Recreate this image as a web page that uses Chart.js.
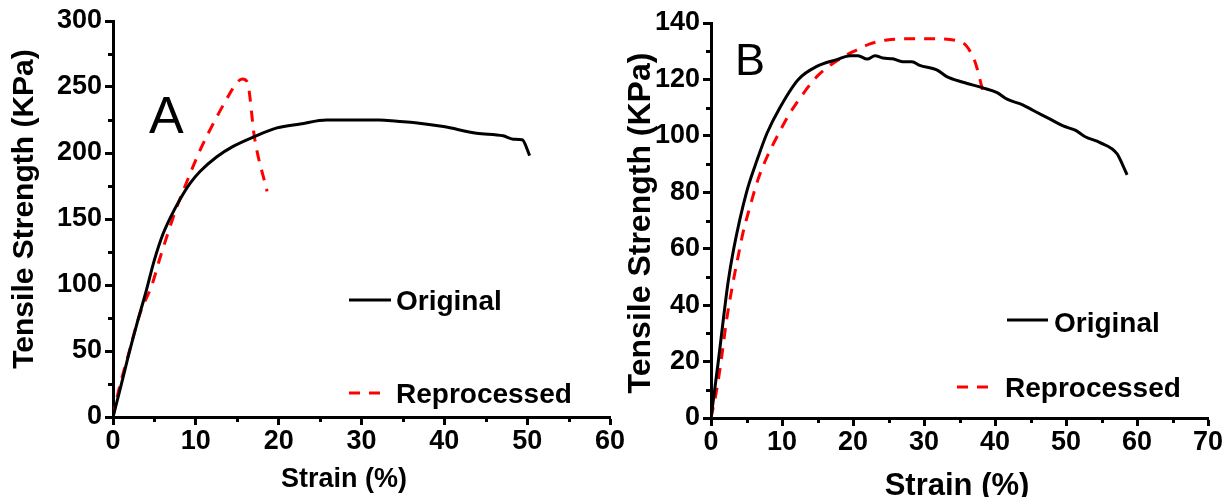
<!DOCTYPE html>
<html>
<head>
<meta charset="utf-8">
<title>Tensile strength vs strain</title>
<script src="https://cdn.jsdelivr.net/npm/chart.js@4.4.0/dist/chart.umd.min.js"></script>
<style>
  html, body { margin: 0; padding: 0; background: #fff; }
  body { width: 1230px; height: 497px; position: relative; overflow: hidden; }
  canvas { position: absolute; top: 0; }
  #chartA { left: 0; }
  #chartB { left: 600px; }
</style>
</head>
<body>
<canvas id="chartA" width="650" height="497"></canvas>
<canvas id="chartB" width="630" height="497"></canvas>
<script>
const FONT = "'Liberation Sans', Arial, Helvetica, sans-serif";

// ---- Panel A ----
const strainA_original = [0, 0.9, 1.8, 2.9, 3.9, 5.0, 6.0, 7.0, 8.1, 9.3, 10.5, 12.5, 14.5, 16.9, 19.8, 22.6, 25.8, 32.2, 34.3, 36.5, 39.9, 43.9, 47.1, 48.3, 49.4, 50.3];
const stressA_original = [0, 22, 45, 71, 93, 119, 138, 152, 165, 177, 186, 197, 205, 212, 219, 222, 225, 225, 224, 223, 220, 215, 213, 210.5, 210, 198];
const strainA_reprocessed = [0, 0.6, 1.8, 3.3, 4.7, 5.7, 7.7, 8.9, 10.5, 12.5, 14.1, 14.9, 15.6, 16.2, 17.1, 18.6];
const stressA_reprocessed = [0, 18, 46, 79, 100, 121, 159, 178, 202, 227, 245, 253, 256, 254, 211, 171];

const xTicksA = [0, 10, 20, 30, 40, 50, 60];
const yTicksA = [0, 50, 100, 150, 200, 250, 300];
const xMinorA = [5, 15, 25, 35, 45, 55];
const yMinorA = [25, 75, 125, 175, 225, 275];

// ---- Panel B ----
const strainB_original = [0, 1.0, 2.4, 3.2, 5.0, 6.5, 7.9, 9.7, 12.3, 14.9, 17.7, 19.6, 20.7, 22.0, 23.1, 24.2, 25.6, 27.0, 28.3, 29.4, 31.8, 33.2, 35.5, 38.3, 40.3, 41.7, 43.9, 45.4, 47.7, 49.6, 51.3, 52.7, 54.8, 57.2, 58.1, 58.6];
const stressB_original = [0, 19.5, 48, 60, 80, 91.5, 101, 110, 120, 124.6, 127, 128.4, 128.4, 127.2, 128.4, 127.6, 127.3, 126.3, 126.3, 125, 123.4, 121, 119, 117, 115.3, 113, 111, 109, 106, 103.5, 102, 99.7, 97.6, 93.6, 89, 86.2];
const strainB_reprocessed = [0, 0.8, 1.5, 2.2, 3.1, 3.8, 4.5, 5.5, 6.6, 7.9, 9.3, 11.1, 13.0, 14.9, 16.8, 18.6, 20.6, 22.4, 24.8, 28.0, 31.8, 35.5, 36.9, 37.4, 38.3];
const stressB_reprocessed = [0, 10, 21.6, 34.8, 48, 57, 65.6, 75, 84.4, 92.6, 99.7, 108, 115, 121, 125, 128, 130.5, 132.6, 134, 134.4, 134.4, 132.9, 128, 124.6, 115.7];

const xTicksB = [0, 10, 20, 30, 40, 50, 60, 70];
const yTicksB = [0, 20, 40, 60, 80, 100, 120, 140];
const xMinorB = [5, 15, 25, 35, 45, 55, 65];
const yMinorB = [10, 30, 50, 70, 90, 110, 130];

const seriesNames = ['Original', 'Reprocessed'];
const yTitle = 'Tensile Strength (KPa)';
const xTitle = 'Strain (%)';

function toPoints(xs, ys) {
  return xs.map((x, i) => ({ x, y: ys[i] }));
}

// Minor ticks, axis titles, panel letter and the in-plot legend.
const panelDecor = {
  id: 'panelDecor',
  afterDraw(chart, args, o) {
    const ctx = chart.ctx;
    const xs = chart.scales.x, ys = chart.scales.y;
    const area = chart.chartArea;
    ctx.save();

    ctx.strokeStyle = '#000';
    ctx.lineWidth = 3;
    ctx.beginPath();
    o.minorX.forEach(v => {
      const px = Math.round(xs.getPixelForValue(v)) + 0.5;
      ctx.moveTo(px, area.bottom);
      ctx.lineTo(px, area.bottom + o.minorLen);
    });
    o.minorY.forEach(v => {
      const py = Math.round(ys.getPixelForValue(v)) + 0.5;
      ctx.moveTo(area.left, py);
      ctx.lineTo(area.left - o.minorLen, py);
    });
    ctx.stroke();

    ctx.fillStyle = '#000';
    ctx.textBaseline = 'alphabetic';

    // y title, rotated
    ctx.save();
    ctx.font = 'bold ' + o.yTitle.size + 'px ' + FONT;
    ctx.translate(o.yTitle.x, o.yTitle.y);
    ctx.rotate(-Math.PI / 2);
    ctx.textAlign = 'center';
    ctx.fillText(yTitle, 0, 0);
    ctx.restore();

    // x title
    ctx.font = 'bold ' + o.xTitle.size + 'px ' + FONT;
    ctx.textAlign = 'center';
    ctx.fillText(xTitle, o.xTitle.x, o.xTitle.y);

    // panel letter
    ctx.font = o.letter.size + 'px ' + FONT;
    ctx.textAlign = 'left';
    ctx.fillText(o.letter.text, o.letter.x, o.letter.y);

    // legend
    chart.data.datasets.forEach((ds, i) => {
      const e = o.legend[i];
      ctx.beginPath();
      ctx.setLineDash(ds.borderDash || []);
      ctx.strokeStyle = ds.borderColor;
      ctx.lineWidth = 3;
      ctx.moveTo(e.x1, e.y);
      ctx.lineTo(e.x2, e.y);
      ctx.stroke();
      ctx.setLineDash([]);
      ctx.font = 'bold 28px ' + FONT;
      ctx.fillStyle = '#000';
      ctx.textAlign = 'left';
      ctx.fillText(ds.label, e.tx, e.ty);
    });

    ctx.restore();
  }
};

function axis(ticks, fixSize, pad) {
  return {
    type: 'linear',
    min: ticks[0],
    max: ticks[ticks.length - 1],
    afterBuildTicks: s => { s.ticks = ticks.map(v => ({ value: v })); },
    afterFit: fixSize,
    ticks: {
      font: { family: FONT, size: 27, weight: 'bold' },
      color: '#000',
      padding: pad,
      maxRotation: 0,
      autoSkip: false
    },
    grid: {
      drawOnChartArea: false,
      tickLength: 8,
      tickWidth: 3,
      tickColor: '#000',
      color: '#000'
    },
    border: { display: true, color: '#000', width: 3 }
  };
}

function makeChart(id, xT, yT, origX, origY, repX, repY, box, decor) {
  return new Chart(document.getElementById(id), {
    type: 'line',
    data: {
      datasets: [
        {
          label: seriesNames[0],
          data: toPoints(origX, origY),
          borderColor: '#000000',
          borderWidth: 3,
          pointRadius: 0,
          cubicInterpolationMode: 'monotone',
          fill: false
        },
        {
          label: seriesNames[1],
          data: toPoints(repX, repY),
          borderColor: '#ff0000',
          borderWidth: 3,
          borderDash: [11, 9],
          pointRadius: 0,
          cubicInterpolationMode: 'monotone',
          fill: false
        }
      ]
    },
    options: {
      responsive: false,
      animation: false,
      events: [],
      layout: { padding: { left: 0, top: box.top, right: box.right, bottom: 0 } },
      scales: {
        x: axis(xT, s => { s.height = box.xHeight; }, 0),
        y: axis(yT, s => { s.width = box.yWidth; }, 3)
      },
      plugins: {
        legend: { display: false },
        tooltip: { enabled: false },
        panelDecor: decor
      }
    },
    plugins: [panelDecor]
  });
}

makeChart('chartA', xTicksA, yTicksA,
  strainA_original, stressA_original, strainA_reprocessed, stressA_reprocessed,
  { top: 21, right: 40, xHeight: 80, yWidth: 113 },
  {
    minorX: xMinorA, minorY: yMinorA, minorLen: 5,
    yTitle: { x: 33, y: 209, size: 30 },
    xTitle: { x: 344, y: 487, size: 27 },
    letter: { text: 'A', x: 149, y: 133, size: 52 },
    legend: [
      { x1: 349, x2: 391, y: 300, tx: 396, ty: 310 },
      { x1: 349, x2: 386, y: 393, tx: 396, ty: 403 }
    ]
  });

makeChart('chartB', xTicksB, yTicksB,
  strainB_original, stressB_original, strainB_reprocessed, stressB_reprocessed,
  { top: 23, right: 22, xHeight: 79, yWidth: 111 },
  {
    minorX: xMinorB, minorY: yMinorB, minorLen: 5,
    yTitle: { x: 50, y: 223, size: 32 },
    xTitle: { x: 357, y: 495, size: 31 },
    letter: { text: 'B', x: 135, y: 75, size: 45 },
    legend: [
      { x1: 407, x2: 448, y: 320, tx: 454, ty: 332 },
      { x1: 357, x2: 394, y: 387, tx: 405, ty: 397 }
    ]
  });
</script>
</body>
</html>
